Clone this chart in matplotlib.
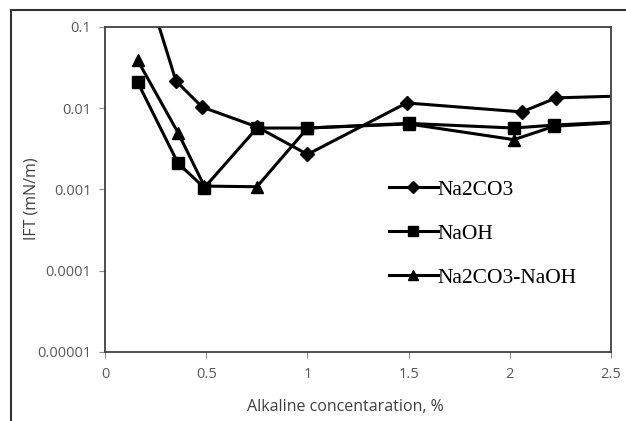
import matplotlib
matplotlib.use('Agg')
import matplotlib.pyplot as plt
from matplotlib.lines import Line2D

# IFT vs alkaline concentration
x_na2co3 = [0.17, 0.35, 0.48, 0.75, 1.0, 1.49, 2.06, 2.23, 2.75]
y_na2co3 = [0.6, 0.0216, 0.0103, 0.0059, 0.0027, 0.0116, 0.009, 0.0134, 0.0146]

x_naoh = [0.16, 0.36, 0.49, 0.75, 1.0, 1.5, 2.02, 2.22, 2.75]
y_naoh = [0.021, 0.0021, 0.00105, 0.0057, 0.0057, 0.0065, 0.0057, 0.0062, 0.0072]

x_mix = [0.16, 0.36, 0.49, 0.75, 1.0, 1.5, 2.02, 2.22, 2.75]
y_mix = [0.039, 0.005, 0.0011, 0.00108, 0.0057, 0.0064, 0.0041, 0.006, 0.0072]

labels = ['Na2CO3', 'NaOH', 'Na2CO3-NaOH']
xticks = [0, 0.5, 1, 1.5, 2, 2.5]
yticks = [0.00001, 0.0001, 0.001, 0.01, 0.1]
ytick_labels = ['0.00001', '0.0001', '0.001', '0.01', '0.1']

plt.rcParams['font.family'] = ['Open Sans', 'DejaVu Sans']

fig = plt.figure(figsize=(6.26, 4.21), dpi=100)
ax = fig.add_axes([0.168, 0.164, 0.808, 0.772])

style = dict(color='black', lw=2.2, markersize=8)
ax.plot(x_na2co3, y_na2co3, marker='D', markersize=7, color='black', lw=2.2, label=labels[0])
ax.plot(x_naoh, y_naoh, marker='s', label=labels[1], **style)
ax.plot(x_mix, y_mix, marker='^', label=labels[2], **style)

ax.set_yscale('log')
ax.set_xlim(0, 2.5)
ax.set_ylim(0.00001, 0.1)
ax.set_xticks(xticks)
ax.set_xticklabels([f'{t:g}' for t in xticks])
ax.set_yticks(yticks)
ax.set_yticklabels(ytick_labels)
ax.minorticks_off()
ax.tick_params(colors='#8c8c8c', labelcolor='#595959', labelsize=10.5, length=4, width=0.8)
ax.tick_params(axis='x', pad=7)
ax.tick_params(axis='y', pad=6)

for s in ax.spines.values():
    s.set_color('#404040')
    s.set_linewidth(1.3)

# axis titles placed like the original chart-area titles
fig.text(345 / 626, 1 - 407 / 421, 'Alkaline concentaration, %', fontsize=11.5,
         color='#404040', ha='center', va='center')
fig.text(32 / 626, 1 - 199 / 421, 'IFT (mN/m)', fontsize=11.5, color='#404040',
         ha='center', va='center', rotation=90)

ax.legend(loc='upper left', bbox_to_anchor=(0.523, 0.59), frameon=False,
          prop={'family': 'Liberation Serif', 'size': 15.5},
          handlelength=2.25, handletextpad=0.0, labelspacing=1.12, markerscale=0.85)

# outer frame (top and left visible in the crop)
fig.add_artist(Line2D([0.0176, 1.0], [0.976, 0.976], transform=fig.transFigure,
                      color='#333333', lw=1.5))
fig.add_artist(Line2D([0.0176, 0.0176], [0.0, 0.976], transform=fig.transFigure,
                      color='#333333', lw=1.5))

fig.savefig('out.png', dpi=100)
